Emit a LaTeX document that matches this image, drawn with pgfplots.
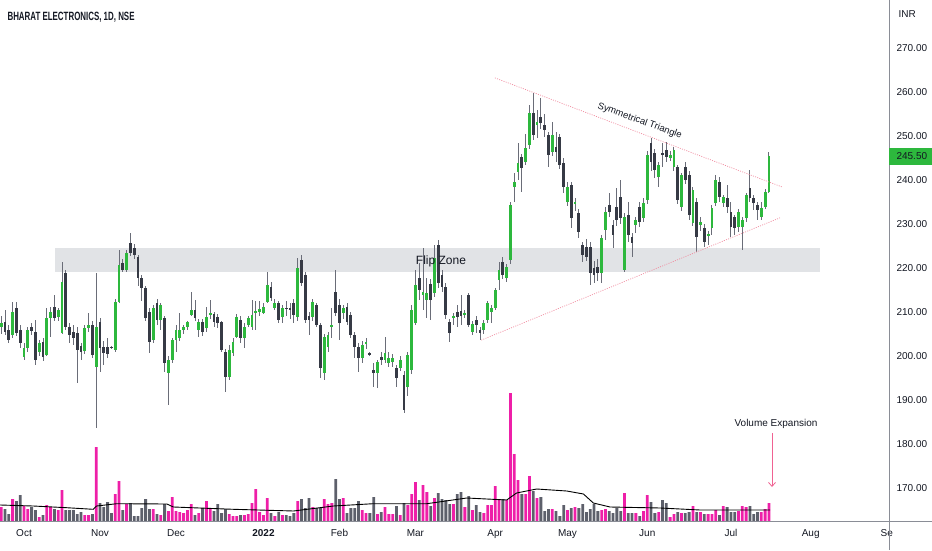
\documentclass[border=0pt]{standalone}
\usepackage{fontspec}
\setmainfont{Liberation Sans}
\usepackage{pgfplots}
\pgfplotsset{compat=1.18}
\usepackage{pgfplotstable}
\usetikzlibrary{arrows.meta}

\definecolor{candleup}{HTML}{2DB83D}
\definecolor{candledn}{HTML}{363A45}
\definecolor{wick}{HTML}{6A6D78}
\definecolor{volup}{HTML}{EE1FA8}
\definecolor{voldn}{HTML}{5D606B}
\definecolor{band}{HTML}{E1E3E6}
\definecolor{tri}{HTML}{F08CA0}
\definecolor{arrowpink}{HTML}{F06292}
\definecolor{txt}{HTML}{131722}
\definecolor{scaleline}{HTML}{8A8D96}

% daily candles, bar 0 = 1 Oct 2021; v = volume (relative)
\pgfplotstableread{
i o h l c v
-6 206.6 209 205 207.5 14
-3 204.8 212.3 204 210 22
0 199.8 203 199.1 201.8 15
1 201.8 206.5 201 205.9 12
4 200.9 203.6 200 203 4
6 200.2 210.9 200 208.6 16
7 208.6 211.1 204.3 210 14
9 208.9 211 208 210.5 11
10 205.2 221.4 205 216.8 31
16 201.1 207 200.5 206.4 6
17 206.4 209.8 205.5 207 6
19 197.5 218.9 183.6 206.6 74
24 201.4 213 201 212.3 27
25 212.3 224.1 212 220.7 40
27 219.5 224 219 223.4 17
34 203.6 211.5 203 210.9 12
36 208.2 212 205.9 211.6 6
38 196.1 200 188.9 199.1 10
39 199.1 204 198.5 203.6 24
40 203.6 207 201 205.9 10
41 204.1 209.8 203.5 205.9 9
42 205.9 207 205 206.6 8
43 206.6 208 206 207.7 11
44 209.3 214.5 209 210.5 17
46 205.9 208.5 204.3 207.7 8
48 206.4 211.1 205.5 208.9 20
49 209.3 212.7 208.5 209.8 13
54 195.2 202.5 194.5 201.4 7
55 200.7 204 200 203.2 5
56 204.3 209.5 204 208.9 5
58 204.1 207.5 201.8 206.6 6
59 207 209 206.5 208.6 7
60 206.6 212.7 206 209.3 18
61 209.8 212.5 206 210.2 32
62 210 212.5 209 210.6 9
63 209.8 212 209.5 211.1 6
64 212.3 219.1 212 216.1 23
66 210.9 213 210.5 212 5
68 208.9 211.5 207.5 210.9 6
72 208.9 222.3 208 220 20
76 208.9 213 208 212.3 14
79 196.1 205 194.5 204.3 22
80 202 205.5 201 204.8 17
81 206.6 210.9 204 207 18
84 209.8 211.5 208.5 210.9 23
89 199.5 203.5 198.5 202.5 11
90 202.8 204 201.5 203.2 8
93 196.1 199 192.7 198.6 7
95 199.1 204.3 198.5 200.7 14
96 198.5 201 197.5 199.5 7
97 198.6 200.5 197.5 199.5 7
99 197.3 200 196.5 199.1 6
101 193 201 191 200.2 16
102 196.8 211.5 196 210.5 27
103 207.5 219.5 207 216.1 39
105 213.9 224.5 210.5 214.5 36
106 212.7 217.7 208.6 214.3 29
108 214.3 225.2 213.5 222.3 23
113 208.6 209.8 207 209.1 17
116 209.3 210.5 208.6 209.8 14
118 205.5 208 204.8 207.3 11
121 205.9 208.2 205 207.5 8
122 208.2 212.5 207.5 212 16
123 210 211.5 207.5 210.9 16
124 210.9 215.5 210.5 215 35
125 217.3 221.4 215 219.5 22
127 217.7 221 216.8 220.2 21
128 221.8 235 221 234.3 128
129 238.4 241.6 235 239.5 67
130 241.8 248.4 240 243.9 41
132 244.1 250.5 243.5 247.3 27
133 248 257 247 255.2 45
135 252.5 256 249.5 253.2 23
139 246.4 253.2 245.5 250.2 12
143 235 239.5 234 238.4 11
145 234.5 236 233 235 14
152 218.9 227.5 216.6 226.8 11
153 228.6 233.9 226.4 232.7 12
158 219.5 232.5 219 231.6 28
161 229.8 231.5 228 230.9 8
163 231.4 235.9 230.5 234.8 10
164 235.5 246.5 234.5 245.7 26
167 240.7 244 238.4 243.4 9
170 245 246.5 244.3 245.7 4
171 243 247.5 242 246.8 7
173 233.9 241.5 233 241.1 8
176 230.2 238.5 229.5 237.7 15
178 229.8 231.5 228.5 230.4 9
180 227.2 228.5 225.2 227.8 7
181 229.1 234.3 227.5 233.6 7
182 234.8 241.1 234 240 11
184 234.8 236.6 233.9 236.1 15
188 229.3 233.5 228.2 232.7 10
189 229.3 231.6 224.1 230.9 15
190 231.4 237 230.5 236.6 14
194 231.6 235 230.9 233.6 9
195 233.9 238 233.5 237.3 12
196 237.3 246.4 237 245.5 18
}\upbars

\pgfplotstableread{
i o h l c v
-5 207.7 210.5 204.8 205.5 12
-4 205.9 207 203 203.6 7
-2 210.9 212.3 204.5 205.2 20
-1 205.9 207 201.8 203 26
2 206.6 207.5 204.8 205.7 14
3 205.5 208.2 198 199.1 11
5 203.2 204 198.9 199.8 6
8 211.1 213.9 208 208.6 12
11 218.9 219.5 206 206.6 11
12 206.6 207.5 203 204.8 11
13 205.5 207 202.5 204.1 11
14 205.2 206.5 193.9 201.4 7
15 202.3 203 199 200.9 9
18 207 208 199.5 200.2 7
20 207.7 208.6 196.4 201.8 18
21 202 203.4 198 200.7 14
22 202 204 199.5 200.5 19
23 202.1 202.3 201.6 201.8 8
26 221.1 222 219 219.5 11
28 225.7 228 222.8 223.4 18
29 224.5 225.5 222 223 5
30 222.5 223 216 217.7 5
31 217.7 218.5 212.5 215.5 13
32 215.5 216 208 208.6 22
33 210 211 200.7 203.2 12
35 212 212.9 207 208.2 7
37 208.6 209 196.4 198.4 17
45 210.5 212.7 208 208.6 6
47 207.7 208.5 204.5 205.5 13
50 209.5 210 206.5 207.7 10
51 208.9 209.5 206.4 207.5 17
52 207.7 208 201 201.4 8
53 200.9 201.5 191.8 195.2 12
57 208.2 209 203 204.1 6
65 215.7 216.8 212.5 213.2 8
67 212 212.5 207.5 208.2 9
69 211 212.5 209 210.6 6
70 210.9 212 208.5 210.5 5
71 212 213 207.5 209.3 8
73 221.8 223 216 216.6 22
74 218.4 219 207.5 208.2 13
75 209.1 210 204.8 208.2 23
77 211.6 212 206.5 207 13
78 207 207.5 195 197.3 13
82 214.5 219.5 209 209.8 42
83 211.6 213 203.6 207.5 22
85 211.1 212 207 207.7 8
86 209.3 210 204 204.8 13
87 204.8 205.5 199.5 202 13
88 202 203 196.4 199.5 20
91 200.7 201 200 200.3 8
92 196.8 198.5 193 196.1 24
94 199.8 201 198 199.1 9
98 197.3 198 193 195 15
100 195.7 196.5 187 187.7 18
104 217.7 221.1 212.7 215 21
107 216.4 217.5 208.2 212.7 15
109 225.2 226.4 215.5 216.6 28
110 218.4 219.5 214.5 215.7 22
111 215.7 216.5 208.5 209.3 21
112 207.7 208.5 203.2 205.2 17
114 210 211.6 206.6 208.9 27
115 210.2 213.9 207 209 29
117 213.9 214.3 206.6 207 25
119 208.2 209 205.2 207 16
120 205.9 206.6 203.6 205.2 9
126 221.4 222.5 217.5 218.4 22
131 245.2 246 237.3 242.7 27
134 255.2 259.8 249 250.2 30
136 254.3 258.6 251.5 253 24
137 252.5 255 249.8 251.4 10
138 250.2 251 243 245.7 12
140 247.5 250.9 244.1 246.4 10
141 249.8 250.5 242.5 243.4 5
142 243.9 245 237 238.4 16
144 238.9 239.5 229.1 231.4 13
146 232.5 233.5 226.8 228.2 13
147 225.2 226 221.4 223 17
148 224.8 226.5 221.5 222.5 9
149 224.8 226 216.1 218.9 12
150 220 221.5 216.5 218.4 17
151 220.2 222 217 218.9 10
154 234.3 237 231.5 232.7 10
155 229.8 231 224.5 227.5 8
156 233.9 238.2 229.5 230.9 13
157 236.1 240 230 231.4 10
159 232 235 226 227.5 8
160 227 228 222.5 225.7 8
162 233.9 235 229.3 230.5 5
165 248.4 249.5 242 244.1 19
166 246.1 247 240.5 242.3 8
168 246.1 248.4 243 245.7 21
169 246.8 248.6 244 245.2 18
172 243 243.5 234.5 235.5 9
174 243 244 239 240 8
175 241.1 242 230.9 232 9
177 235 236 223.6 227 9
179 229.1 230 224.8 225.9 7
183 239.5 240.7 235 236.1 6
185 235.9 238.9 232.5 233.9 14
186 232.7 235 227 229.3 9
187 231.6 232 227.5 229.1 9
191 238.2 242.3 235 235.9 15
192 235.9 236.6 233.2 234.8 7
193 234.3 235 230.9 233.2 9
}\dnbars

% volume moving average
\pgfplotstableread{
i m
-6.3 16
2.4 15
11.2 13.3
18.2 11.7
19.1 15
24.4 17.3
37.6 17
39.3 14
55.1 11.7
70.9 10
81.4 15
91.9 17.3
106 17.3
116.5 23
127 21
129.6 28
134.9 32
142.8 30
147.2 27
149.8 18
154.2 14
167.4 13
177.9 11
196.3 11
}\volma

\pgfplotsset{
  chartframe/.style={
    at={(0pt,29pt)}, anchor=south west,
    scale only axis, width=889pt, height=521pt,
    xmin=-6.32, xmax=227.6,
  },
  candle/.style 2 args={draw=none, mark=none, forget plot,
    error bars/.cd, y dir=both, y explicit, error mark=none,
    error bar style={line width=#1, draw=#2}},
}

\begin{document}
\begin{tikzpicture}[x=1pt,y=1pt]
\useasboundingbox (0,0) rectangle (932,550);

% volume pane
\begin{axis}[chartframe, ymin=0, ymax=521, hide axis]
  \addplot[ybar, bar width=2.8pt, bar shift=0pt, fill=volup, draw=none] table[x=i,y=v]{\upbars};
  \addplot[ybar, bar width=2.8pt, bar shift=0pt, fill=voldn, draw=none] table[x=i,y=v]{\dnbars};
  \addplot[black, line width=0.9pt] table[x=i,y=m]{\volma};
\end{axis}

% price pane
\begin{axis}[chartframe, ymin=162.5, ymax=280.9,
    axis line style={draw=none}, major tick style={draw=none}, major tick length=0pt,
    ytick={170,180,...,270}, yticklabel pos=right,
    yticklabel={\pgfmathprintnumber[fixed,fixed zerofill,precision=2,assume math mode=true]{\tick}},
    yticklabel style={anchor=west, xshift=4pt, font=\fontsize{10}{12}\selectfont, text=txt},
    xtick={0,20,40,63,83,103,124,143,164,186,207,227},
    xticklabels={Oct,Nov,Dec,\textbf{2022},Feb,Mar,Apr,May,Jun,Jul,Aug,Se},
    xticklabel style={yshift=-5pt, font=\fontsize{10}{12}\selectfont, text=txt},
  ]
  % flip zone band
  \addplot[fill=band, draw=none] coordinates {(8.2,219.1) (209.5,219.1) (209.5,224.5) (8.2,224.5)} -- cycle;
  % wicks
  \addplot[candle={0.9pt}{wick}]
    table[x=i, y expr={(\thisrow{h}+\thisrow{l})/2}, y error expr={(\thisrow{h}-\thisrow{l})/2}]{\upbars};
  \addplot[candle={0.9pt}{wick}]
    table[x=i, y expr={(\thisrow{h}+\thisrow{l})/2}, y error expr={(\thisrow{h}-\thisrow{l})/2}]{\dnbars};
  % bodies
  \addplot[candle={2.8pt}{candleup}]
    table[x=i, y expr={(\thisrow{o}+\thisrow{c})/2}, y error expr={abs(\thisrow{c}-\thisrow{o})/2}]{\upbars};
  \addplot[candle={2.8pt}{candledn}]
    table[x=i, y expr={(\thisrow{o}+\thisrow{c})/2}, y error expr={abs(\thisrow{c}-\thisrow{o})/2}]{\dnbars};
  % triangle
  \draw[tri, line width=0.7pt, dash pattern=on 1pt off 1.3pt] (axis cs:123.9,263.2) -- (axis cs:199.5,238.4);
  \draw[tri, line width=0.7pt, dash pattern=on 1pt off 1.3pt] (axis cs:120.3,203.6) -- (axis cs:198.9,231.4);
  \node[text=txt, font=\fontsize{12}{14}\selectfont] at (axis cs:109.7,221.5) {Flip Zone};
  \node[text=txt, font=\fontsize{9.5}{11}\selectfont, rotate=-20] at (axis cs:162,253.4) {Symmetrical Triangle};
\end{axis}

% scale lines
\draw[scaleline, line width=0.8pt] (0,29) -- (932,29);
\draw[scaleline, line width=0.8pt] (889,0) -- (889,550);

% annotation: volume expansion
\node[text=txt, font=\fontsize{10}{12}\selectfont] at (776,126) {Volume Expansion};
\draw[arrowpink, line width=0.8pt, -{Straight Barb[length=4pt,width=7pt]}] (772,117) -- (772,63);

% title, currency, last price
\node[anchor=west, text=txt, font=\bfseries\fontsize{12}{14}\selectfont] at (4,533) {\scalebox{0.66}[1]{BHARAT ELECTRONICS, 1D, NSE}};
\node[anchor=west, text=txt, font=\fontsize{10}{12}\selectfont] at (895,536) {INR};
\fill[candleup] (889,385) rectangle (932,402);
\node[anchor=west, text=txt, font=\fontsize{10}{12}\selectfont] at (893,393.5) {245.50};
\end{tikzpicture}
\end{document}
